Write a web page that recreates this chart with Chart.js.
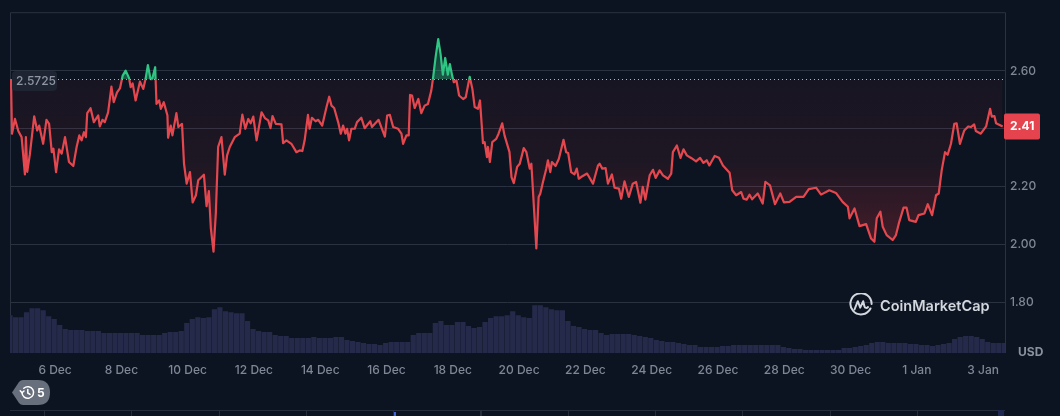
<!DOCTYPE html>
<html>
<head>
<meta charset="utf-8">
<title>Price chart</title>
<script src="https://cdn.jsdelivr.net/npm/chart.js@4"></script>
<style>
    body { margin: 0; background: #0d1421; overflow: hidden; font-family: Inter, sans-serif; }
    #wrap { position: relative; width: 1060px; height: 416px; }
    canvas { position: absolute; left: 0; top: 0; }
    .abs { position: absolute; }
    #logoText { left: 880px; top: 296px; font-size: 14.5px; font-weight: 600; line-height: 20px; color: #d3d7de; }
    #usd { left: 1018px; top: 345px; font-size: 12px; font-weight: 700; line-height: 14px; color: #8a91a0; }
    #pillText { left: 37px; top: 385px; font-size: 12px; font-weight: 700; line-height: 15px; color: #fff; }
    #navLine { left: 10px; top: 410px; width: 995px; height: 1px; background: #262d3b; }
    #navTicks { left: 44px; top: 410px; width: 875px; height: 6px;
        background: repeating-linear-gradient(90deg, #262d3b 0 1px, transparent 1px 87.3px); }
    #navMark { left: 394px; top: 412px; width: 2px; height: 4px; background: #3f66d8; }
    #navEnd { left: 998px; top: 410px; width: 6px; height: 6px; background: #1f2850; }
</style>
</head>
<body>
<div id="wrap">
    <canvas id="priceChart" width="1060" height="416"></canvas>

    <svg class="abs" style="left:849px;top:293px" width="24" height="24" viewBox="0 0 24 24" fill="none" stroke="#d3d7de" stroke-width="2" stroke-linecap="round" stroke-linejoin="round">
        <path d="M21.5 15.5A10.6 10.6 0 1 1 22.6 11"/>
        <path d="M5.5 16.5L8.8 8.2 11.2 14.6 14.2 8.2 15.4 13.2C15.9 15.2 17.8 15.4 19 14"/>
    </svg>
    <div class="abs" id="logoText">CoinMarketCap</div>
    <div class="abs" id="usd">USD</div>

    <svg class="abs" style="left:11px;top:380px" width="40" height="25" viewBox="0 0 40 25">
        <path d="M1 12.5L8 2Q9.5 0 12 0H27Q39 0 39 12.5T27 25H12Q9.5 25 8 23Z" fill="#676e7c"/>
        <g fill="none" stroke="#fff" stroke-width="1.5" stroke-linecap="round">
            <path d="M11 12.5A5.8 5.8 0 1 0 12.8 8.3"/>
            <path d="M16.8 9.5V13L19 14.4"/>
            <path d="M9.2 10.8L11 12.8 13 11"/>
        </g>
    </svg>
    <div class="abs" id="pillText">5</div>

    <div class="abs" id="navLine"></div>
    <div class="abs" id="navTicks"></div>
    <div class="abs" id="navMark"></div>
    <div class="abs" id="navEnd"></div>
</div>

<script>
// x values are days counted from 1 Dec = 1, so 1 Jan = 32
const tickDays = [6, 8, 10, 12, 14, 16, 18, 20, 22, 24, 26, 28, 30, 32, 34];
const tickLabels = ['6 Dec', '8 Dec', '10 Dec', '12 Dec', '14 Dec', '16 Dec', '18 Dec', '20 Dec',
    '22 Dec', '24 Dec', '26 Dec', '28 Dec', '30 Dec', '1 Jan', '3 Jan'];
const priceTicks = [2.6, 2.4, 2.2, 2.0, 1.8];

const openPrice = 2.5725;
const lastPriceLabel = '2.41';

const priceDays = [
    4.67, 4.70, 4.79, 4.89, 4.99, 5.09, 5.12, 5.16, 5.24, 5.37, 5.46, 5.52, 5.64, 5.74, 5.82, 5.90, 5.95, 6.03, 6.12, 6.20,
    6.30, 6.42, 6.55, 6.65, 6.73, 6.80, 6.87, 6.93, 6.97, 7.07, 7.17, 7.30, 7.35, 7.43, 7.50, 7.60, 7.70, 7.77, 7.87, 7.96,
    8.04, 8.13, 8.23, 8.28, 8.34, 8.43, 8.56, 8.66, 8.73, 8.80, 8.88, 8.93, 9.02, 9.06, 9.14, 9.19, 9.28, 9.39, 9.41, 9.49,
    9.54, 9.66, 9.72, 9.83, 9.89, 9.97, 10.07, 10.15, 10.25, 10.32, 10.49, 10.57, 10.64, 10.70, 10.78, 10.85, 10.92, 11.02, 11.12, 11.19,
    11.27, 11.42, 11.57, 11.65, 11.74, 11.83, 11.90, 11.98, 12.08, 12.23, 12.33, 12.43, 12.50, 12.56, 12.66, 12.83, 12.88, 12.98, 13.13, 13.28,
    13.38, 13.46, 13.53, 13.63, 13.68, 13.75, 13.86, 13.94, 14.06, 14.19, 14.27, 14.34, 14.42, 14.54, 14.62, 14.69, 14.76, 14.81, 14.87, 14.94,
    15.04, 15.11, 15.24, 15.34, 15.51, 15.56, 15.76, 15.95, 16.02, 16.10, 16.20, 16.35, 16.45, 16.50, 16.60, 16.67, 16.71, 16.77, 16.85, 16.96,
    17.05, 17.15, 17.25, 17.35, 17.40, 17.48, 17.56, 17.63, 17.70, 17.77, 17.85, 17.91, 17.98, 18.03, 18.11, 18.19, 18.31, 18.39, 18.51, 18.59,
    18.66, 18.76, 18.82, 18.91, 18.96, 19.03, 19.06, 19.12, 19.19, 19.31, 19.38, 19.49, 19.56, 19.71, 19.77, 19.84, 19.94, 20.02, 20.14, 20.22,
    20.32, 20.37, 20.52, 20.59, 20.64, 20.72, 20.82, 20.87, 20.94, 20.99, 21.10, 21.20, 21.34, 21.42, 21.48, 21.57, 21.67, 21.74, 21.80, 21.87,
    22.05, 22.23, 22.38, 22.43, 22.51, 22.61, 22.68, 22.80, 22.88, 23.01, 23.08, 23.18, 23.31, 23.43, 23.53, 23.66, 23.73, 23.81, 23.94, 24.04,
    24.12, 24.24, 24.34, 24.49, 24.59, 24.64, 24.76, 24.87, 24.96, 25.06, 25.19, 25.34, 25.46, 25.56, 25.66, 25.74, 25.90, 26.03, 26.15, 26.35,
    26.43, 26.55, 26.70, 26.77, 26.87, 26.95, 27.03, 27.20, 27.35, 27.43, 27.57, 27.72, 27.88, 27.99, 28.16, 28.36, 28.58, 28.74, 28.96, 29.11,
    29.36, 29.56, 29.76, 29.92, 29.97, 30.12, 30.27, 30.47, 30.62, 30.72, 30.79, 30.90, 30.97, 31.09, 31.27, 31.37, 31.47, 31.60, 31.69, 31.77,
    31.97, 32.05, 32.23, 32.33, 32.46, 32.58, 32.66, 32.75, 32.85, 32.93, 33.03, 33.13, 33.20, 33.30, 33.43, 33.55, 33.63, 33.73, 33.78, 33.93,
    34.09, 34.21, 34.26, 34.34, 34.39, 34.59
];
const priceValues = [
    2.5725, 2.383, 2.434, 2.392, 2.371, 2.242, 2.371, 2.251, 2.312, 2.443, 2.394, 2.411, 2.348, 2.431, 2.417, 2.319, 2.331, 2.250, 2.329, 2.314,
    2.371, 2.285, 2.271, 2.337, 2.377, 2.360, 2.388, 2.371, 2.454, 2.471, 2.423, 2.446, 2.408, 2.431, 2.423, 2.457, 2.546, 2.492, 2.526, 2.541,
    2.584, 2.601, 2.576, 2.544, 2.557, 2.498, 2.563, 2.538, 2.572, 2.620, 2.572, 2.572, 2.613, 2.486, 2.498, 2.469, 2.492, 2.446, 2.369, 2.411,
    2.377, 2.454, 2.406, 2.417, 2.279, 2.210, 2.250, 2.145, 2.170, 2.222, 2.241, 2.132, 2.184, 2.055, 1.975, 2.107, 2.337, 2.371, 2.241, 2.308,
    2.337, 2.371, 2.383, 2.449, 2.400, 2.434, 2.419, 2.442, 2.360, 2.457, 2.437, 2.429, 2.402, 2.444, 2.417, 2.415, 2.350, 2.360, 2.348, 2.319,
    2.325, 2.323, 2.360, 2.448, 2.400, 2.438, 2.426, 2.431, 2.411, 2.475, 2.511, 2.480, 2.472, 2.423, 2.383, 2.411, 2.383, 2.400, 2.360, 2.400,
    2.400, 2.423, 2.438, 2.402, 2.426, 2.406, 2.431, 2.373, 2.446, 2.448, 2.406, 2.400, 2.383, 2.348, 2.377, 2.377, 2.517, 2.515, 2.472, 2.503,
    2.454, 2.480, 2.486, 2.532, 2.572, 2.647, 2.710, 2.659, 2.587, 2.645, 2.587, 2.624, 2.584, 2.561, 2.567, 2.515, 2.503, 2.509, 2.580, 2.538,
    2.475, 2.469, 2.498, 2.350, 2.354, 2.302, 2.337, 2.285, 2.354, 2.365, 2.383, 2.419, 2.377, 2.319, 2.233, 2.212, 2.268, 2.279, 2.333, 2.319,
    2.262, 2.279, 1.986, 2.164, 2.176, 2.216, 2.262, 2.291, 2.250, 2.285, 2.271, 2.296, 2.362, 2.319, 2.316, 2.250, 2.242, 2.262, 2.227, 2.233,
    2.245, 2.210, 2.273, 2.279, 2.262, 2.264, 2.210, 2.242, 2.196, 2.193, 2.158, 2.218, 2.164, 2.210, 2.216, 2.144, 2.199, 2.155, 2.239, 2.258,
    2.230, 2.256, 2.239, 2.227, 2.245, 2.319, 2.342, 2.299, 2.329, 2.308, 2.299, 2.287, 2.299, 2.282, 2.291, 2.273, 2.306, 2.300, 2.273, 2.248,
    2.187, 2.170, 2.181, 2.158, 2.155, 2.172, 2.156, 2.176, 2.141, 2.216, 2.204, 2.139, 2.176, 2.145, 2.147, 2.164, 2.164, 2.191, 2.196, 2.172,
    2.187, 2.178, 2.147, 2.130, 2.090, 2.124, 2.063, 2.070, 2.020, 2.009, 2.090, 2.113, 2.061, 2.032, 2.015, 2.032, 2.078, 2.127, 2.127, 2.084,
    2.078, 2.101, 2.107, 2.139, 2.101, 2.170, 2.176, 2.256, 2.319, 2.310, 2.348, 2.417, 2.419, 2.348, 2.394, 2.408, 2.406, 2.415, 2.392, 2.383,
    2.408, 2.469, 2.442, 2.444, 2.419, 2.408
];

// volume in millions, one bar every 4 hours from the first day
const volumeStartDay = 4.64;
const volumes = [
    380, 360, 360, 410, 450, 450, 430, 370, 340, 280, 240, 230, 230, 230, 220, 220, 220, 200, 200, 200,
    200, 200, 200, 200, 180, 180, 180, 180, 200, 210, 210, 220, 300, 340, 360, 350, 360, 440, 460, 420,
    410, 400, 400, 320, 240, 220, 210, 210, 180, 170, 170, 150, 150, 150, 150, 160, 150, 150, 150, 160,
    160, 130, 120, 110, 100, 90, 90, 80, 100, 110, 110, 110, 110, 180, 200, 200, 200, 300, 320, 280,
    280, 310, 310, 270, 250, 260, 310, 350, 370, 370, 380, 420, 380, 360, 350, 480, 480, 460, 440, 430,
    430, 320, 270, 260, 240, 230, 230, 200, 180, 190, 190, 190, 190, 180, 170, 160, 150, 130, 120, 110,
    110, 100, 90, 80, 80, 60, 60, 60, 60, 70, 70, 80, 80, 80, 80, 80, 80, 80, 80, 80,
    60, 50, 40, 40, 30, 30, 30, 30, 30, 30, 30, 50, 50, 60, 70, 80, 100, 110, 110, 100,
    100, 100, 100, 90, 90, 80, 80, 70, 80, 90, 100, 140, 160, 170, 170, 160, 140, 110, 100, 100, 100
];

const xMin = 4.64, xMax = 34.66;
const yMin = 1.624, yMax = 2.8034;
const gridColor = '#2a3242';

const pricePoints = priceDays.map((d, i) => ({ x: d, y: priceValues[i] }));
const volumePoints = volumes.map((v, i) => ({ x: volumeStartDay + i / 6, y: v }));

// dung gradient theo toa do that cua scale
const gradientPlugin = {
    id: 'gradients',
    afterLayout(chart) {
        const { ctx, chartArea, scales } = chart;
        const top = chartArea.top, bottom = chartArea.bottom;
        const stop = (scales.y.getPixelForValue(openPrice) - top) / (bottom - top);

        const stroke = ctx.createLinearGradient(0, top, 0, bottom);
        stroke.addColorStop(0, '#2fc583');
        stroke.addColorStop(stop, '#2fc583');
        stroke.addColorStop(stop, '#e5474f');
        stroke.addColorStop(1, '#e5474f');

        const base = scales.y.getPixelForValue(openPrice);
        const low = ctx.createLinearGradient(0, base, 0, scales.y.getPixelForValue(2.0));
        low.addColorStop(0, 'rgba(234, 57, 67, 0.05)');
        low.addColorStop(0.5, 'rgba(234, 57, 67, 0.08)');
        low.addColorStop(1, 'rgba(234, 57, 67, 0.25)');

        const high = ctx.createLinearGradient(0, base, 0, scales.y.getPixelForValue(2.7));
        high.addColorStop(0, 'rgba(47, 197, 131, 0.4)');
        high.addColorStop(1, 'rgba(47, 197, 131, 0.15)');

        const ds = chart.data.datasets[0];
        ds.borderColor = stroke;
        ds.fill.below = low;
        ds.fill.above = high;
    }
};

const framePlugin = {
    id: 'frame',
    beforeDatasetsDraw(chart) {
        const { ctx, chartArea: a } = chart;
        ctx.save();
        ctx.strokeStyle = gridColor;
        ctx.lineWidth = 1;
        ctx.beginPath();
        ctx.moveTo(a.left + 0.5, a.bottom);
        ctx.lineTo(a.left + 0.5, a.top + 0.5);
        ctx.lineTo(a.right + 0.5, a.top + 0.5);
        ctx.lineTo(a.right + 0.5, a.bottom);
        ctx.stroke();
        ctx.restore();
    },
    afterDraw(chart) {
        const { ctx, chartArea: a, scales } = chart;
        const baseY = Math.round(scales.y.getPixelForValue(openPrice)) + 0.5;
        const lastY = scales.y.getPixelForValue(priceValues[priceValues.length - 1]);
        ctx.save();

        // duong cham gia mo cua
        ctx.strokeStyle = '#aeb4bf';
        ctx.lineWidth = 1;
        ctx.setLineDash([1, 3]);
        ctx.beginPath();
        ctx.moveTo(58, baseY);
        ctx.lineTo(a.right, baseY);
        ctx.stroke();
        ctx.setLineDash([]);

        // nhan gia mo cua
        ctx.fillStyle = '#1e2431';
        ctx.beginPath();
        ctx.roundRect(12, baseY - 8.5, 45, 20, 4);
        ctx.fill();
        ctx.fillStyle = '#8f96a5';
        ctx.font = '500 12px Inter';
        ctx.textAlign = 'left';
        ctx.textBaseline = 'middle';
        ctx.fillText(openPrice.toFixed(4), 16, baseY + 1.5);

        // nhan gia hien tai
        ctx.fillStyle = '#e5434d';
        ctx.beginPath();
        ctx.roundRect(a.right - 1, lastY - 13, 36, 26, 2);
        ctx.fill();
        ctx.fillStyle = '#fff';
        ctx.font = '700 12px Inter';
        ctx.fillText(lastPriceLabel, 1010, lastY);

        ctx.restore();
    }
};

new Chart(document.getElementById('priceChart'), {
    data: {
        datasets: [
            {
                type: 'line',
                data: pricePoints,
                xAxisID: 'x',
                yAxisID: 'y',
                borderColor: '#e5474f',
                borderWidth: 2.2,
                borderJoinStyle: 'round',
                pointRadius: 0,
                tension: 0,
                fill: { value: openPrice },
                order: 1
            },
            {
                type: 'bar',
                data: volumePoints,
                xAxisID: 'x',
                yAxisID: 'yVol',
                backgroundColor: '#252a4a',
                barPercentage: 0.94,
                categoryPercentage: 1,
                order: 2
            }
        ]
    },
    options: {
        responsive: false,
        animation: false,
        devicePixelRatio: 1,
        layout: { padding: { left: 10, top: 11, right: 0, bottom: 0 } },
        plugins: { legend: { display: false }, tooltip: { enabled: false } },
        scales: {
            x: {
                type: 'linear',
                min: xMin,
                max: xMax,
                offset: false,
                border: { display: false },
                grid: { display: false },
                afterBuildTicks(scale) { scale.ticks = tickDays.map(value => ({ value })); },
                afterFit(scale) { scale.height = 63; },
                ticks: {
                    color: '#7f8796',
                    font: { family: 'Inter', size: 12, weight: '500' },
                    padding: 2,
                    maxRotation: 0,
                    autoSkip: false,
                    callback: value => tickLabels[tickDays.indexOf(value)]
                }
            },
            y: {
                position: 'right',
                min: yMin,
                max: yMax,
                border: { display: false },
                grid: { color: gridColor, drawTicks: false },
                afterBuildTicks(scale) { scale.ticks = priceTicks.map(value => ({ value })); },
                afterFit(scale) { scale.width = 55; },
                ticks: {
                    color: '#7f8796',
                    font: { family: 'Inter', size: 12, weight: '500' },
                    padding: 5,
                    callback: value => value.toFixed(2)
                }
            },
            yVol: {
                display: false,
                min: 0,
                max: 3420
            }
        }
    },
    plugins: [gradientPlugin, framePlugin]
});
</script>
</body>
</html>
